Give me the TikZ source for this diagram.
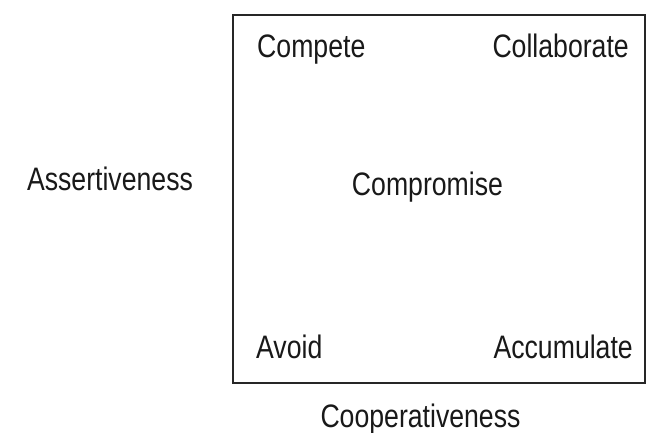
\documentclass[tikz,border=0pt]{standalone}
\usepackage{fontspec}
\newfontfamily\condsans[FakeStretch=0.82]{Liberation Sans}
\begin{document}
\begin{tikzpicture}[x=1pt,y=-1pt,
  lbl/.style={font=\condsans\fontsize{32.5}{38}\selectfont, inner sep=0pt, text=black!90},
  frame/.style={draw=black!85, line width=1.8pt, inner sep=0pt}]
  \useasboundingbox (0,0) rectangle (649,433);
  % the grid of conflict styles
  \node[frame, minimum width=412pt, minimum height=368pt] (grid) at (439,199) {};
  \node[lbl, anchor=base west] (compete) at (257,58) {Compete};
  \node[lbl, anchor=base east] (collaborate) at (629,58) {Collaborate};
  \node[lbl, anchor=base] (compromise) at (427.5,196) {Compromise};
  \node[lbl, anchor=base west] (avoid) at (256,359) {Avoid};
  \node[lbl, anchor=base east] (accumulate) at (633,359) {Accumulate};
  % axis labels
  \node[lbl, anchor=base] (assert) at (110,191) {Assertiveness};
  \node[lbl, anchor=base] (coop) at (420.5,428) {Cooperativeness};
\end{tikzpicture}
\end{document}
